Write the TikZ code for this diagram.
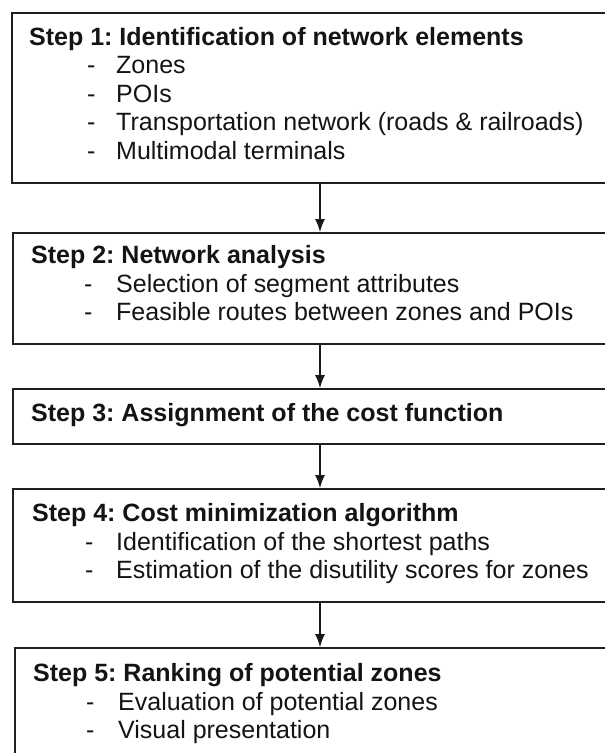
\documentclass[tikz,border=0pt]{standalone}
\usepackage{fontspec}
\setmainfont{Liberation Sans}
\usetikzlibrary{arrows.meta}
\frenchspacing
\begin{document}
\begin{tikzpicture}[x=1pt,y=-1pt,
  stepbox/.style={draw=black!88, line width=1.5pt, rectangle, inner sep=0pt, anchor=north west},
  head/.style={anchor=base west, inner sep=0pt, text=black!92, font=\fontsize{25}{30}\selectfont\bfseries},
  item/.style={anchor=base west, inner sep=0pt, text=black!92, font=\fontsize{25}{30}\selectfont},
  flow/.style={draw=black!90, line width=1.1pt, -{Latex[length=13pt,width=10pt]}}]
\useasboundingbox (0,0) rectangle (605,753);
\clip (0,0) rectangle (605,753);
\fill[white] (0,0) rectangle (605,753);
% boxes
\node[stepbox, minimum width=609pt, minimum height=170pt] (b1) at (11,12) {};
\node[stepbox, minimum width=608pt, minimum height=111pt] (b2) at (12,232) {};
\node[stepbox, minimum width=608pt, minimum height=55pt]  (b3) at (12,388) {};
\node[stepbox, minimum width=608pt, minimum height=113pt] (b4) at (12,488) {};
\node[stepbox, minimum width=606pt, minimum height=140pt] (b5) at (14,647) {};
\coordinate (ax) at (320,0);
% arrows
\draw[flow] (b1.south -| ax) -- (b2.north -| ax);
\draw[flow] (b2.south -| ax) -- (b3.north -| ax);
\draw[flow] (b3.south -| ax) -- (b4.north -| ax);
\draw[flow] (b4.south -| ax) -- (b5.north -| ax);
% step 1
\node[head] (h1) at (29,45) {Step 1: Identification of network elements};
\node[item] (d1a) at (87,73.5) {-};
\node[item] (t1a) at (116,73.5) {Zones};
\node[item] (d1b) at (87,102) {-};
\node[item] (t1b) at (116,102) {POIs};
\node[item] (d1c) at (87,130.5) {-};
\node[item] (t1c) at (116,130.5) {Transportation network (roads \& railroads)};
\node[item] (d1d) at (87,159) {-};
\node[item] (t1d) at (116,159) {Multimodal terminals};
% step 2
\node[head] (h2) at (31,263) {Step 2: Network analysis};
\node[item] (d2a) at (84,292) {-};
\node[item] (t2a) at (116,292) {Selection of segment attributes};
\node[item] (d2b) at (84,320.5) {-};
\node[item] (t2b) at (116,320.5) {Feasible routes between zones and POIs};
% step 3
\node[head] (h3) at (31,421) {Step 3: Assignment of the cost function};
% step 4
\node[head] (h4) at (32,521) {Step 4: Cost minimization algorithm};
\node[item] (d4a) at (85,550) {-};
\node[item] (t4a) at (116,550) {Identification of the shortest paths};
\node[item] (d4b) at (85,578.5) {-};
\node[item] (t4b) at (116,578.5) {Estimation of the disutility scores for zones};
% step 5
\node[head] (h5) at (33,681) {Step 5: Ranking of potential zones};
\node[item] (d5a) at (86,710) {-};
\node[item] (t5a) at (118,710) {Evaluation of potential zones};
\node[item] (d5b) at (86,738.5) {-};
\node[item] (t5b) at (118,738.5) {Visual presentation};
\end{tikzpicture}
\end{document}
